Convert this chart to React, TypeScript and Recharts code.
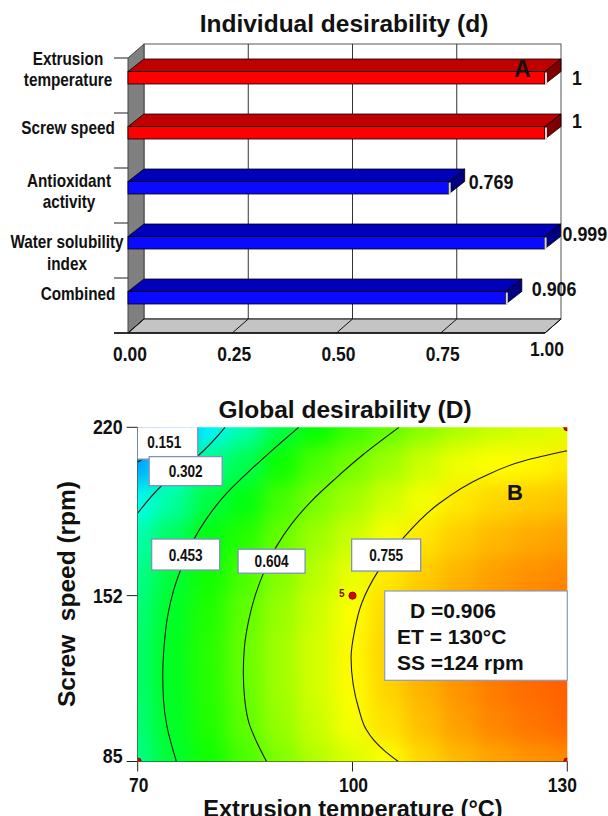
import React from 'react';
import { BarChart, Bar, XAxis, YAxis, ReferenceArea, ScatterChart, Scatter } from 'recharts';

// ---------------- Panel A data ----------------
const CATEGORIES = ['Extrusion temperature', 'Screw speed', 'Antioxidant activity', 'Water solubility index', 'Combined'];
const CATEGORY_LINES = [['Extrusion', 'temperature'], ['Screw speed'], ['Antioxidant', 'activity'], ['Water solubility', 'index'], ['Combined']];
const DESIRABILITY = [1, 1, 0.769, 0.999, 0.906];
const VALUE_LABELS = ['1', '1', '0.769', '0.999', '0.906'];
const BAR_KIND = ['factor', 'factor', 'response', 'response', 'response'];
const D_TICKS = [0, 0.25, 0.5, 0.75, 1];

// ---------------- Panel B data ----------------
const TEMPS = [70, 75, 80, 85, 90, 95, 100, 105, 110, 115, 120, 125, 130];
const SPEEDS = [220, 205, 190, 175, 160, 145, 130, 115, 100, 85];
const D_GRID = [
  [0.06, 0.11, 0.24, 0.33, 0.43, 0.50, 0.555, 0.595, 0.635, 0.67, 0.695, 0.71, 0.72],
  [0.16, 0.27, 0.37, 0.42, 0.51, 0.575, 0.615, 0.655, 0.70, 0.735, 0.75, 0.756, 0.77],
  [0.27, 0.345, 0.435, 0.485, 0.565, 0.62, 0.66, 0.705, 0.74, 0.772, 0.79, 0.80, 0.81],
  [0.33, 0.41, 0.485, 0.535, 0.60, 0.655, 0.70, 0.745, 0.775, 0.80, 0.82, 0.833, 0.843],
  [0.365, 0.445, 0.515, 0.572, 0.63, 0.683, 0.73, 0.772, 0.80, 0.825, 0.845, 0.858, 0.868],
  [0.385, 0.462, 0.53, 0.592, 0.649, 0.70, 0.747, 0.787, 0.817, 0.843, 0.862, 0.877, 0.887],
  [0.395, 0.471, 0.538, 0.602, 0.658, 0.709, 0.755, 0.794, 0.826, 0.852, 0.874, 0.89, 0.90],
  [0.395, 0.47, 0.537, 0.60, 0.657, 0.708, 0.753, 0.792, 0.826, 0.856, 0.879, 0.895, 0.906],
  [0.388, 0.463, 0.53, 0.592, 0.648, 0.698, 0.742, 0.78, 0.815, 0.845, 0.87, 0.885, 0.898],
  [0.372, 0.452, 0.515, 0.572, 0.625, 0.675, 0.715, 0.748, 0.79, 0.82, 0.84, 0.855, 0.865],
];
const TEMP_TICKS = [70, 100, 130];
const SPEED_TICKS = [85, 152, 220];

const CONTOUR_0151 = [{ T: 77.5, S: 220 }, { T: 74, S: 213 }, { T: 70, S: 206 }];
const CONTOUR_0302 = [{ T: 82.2, S: 220 }, { T: 78.5, S: 208.7 }, { T: 76, S: 203 }, { T: 73.4, S: 196.6 }, { T: 70, S: 185.3 }];
const CONTOUR_0453 = [
  { T: 92.5, S: 220 }, { T: 88.5, S: 210 }, { T: 85.1, S: 201 }, { T: 82, S: 192 }, { T: 79.6, S: 183 },
  { T: 77.7, S: 174 }, { T: 76.2, S: 164 }, { T: 75, S: 154 }, { T: 74.2, S: 144 }, { T: 73.7, S: 132 },
  { T: 73.5, S: 120 }, { T: 73.6, S: 110 }, { T: 74.1, S: 99 }, { T: 74.7, S: 92 }, { T: 75.4, S: 85 },
];
const CONTOUR_0604 = [
  { T: 106.5, S: 220 }, { T: 101.5, S: 209 }, { T: 97.5, S: 199 }, { T: 94.2, S: 190 }, { T: 91.5, S: 181 },
  { T: 89.4, S: 172 }, { T: 87.7, S: 162 }, { T: 86.4, S: 152 }, { T: 85.5, S: 142 }, { T: 84.9, S: 131 },
  { T: 84.75, S: 121 }, { T: 84.95, S: 110 }, { T: 85.6, S: 100 }, { T: 86.6, S: 93 }, { T: 88, S: 85 },
];
const CONTOUR_0755 = [
  { T: 130, S: 210.5 }, { T: 124, S: 206.5 }, { T: 117.8, S: 199.4 }, { T: 112, S: 189 }, { T: 107.1, S: 175.3 },
  { T: 103.6, S: 162 }, { T: 101.3, S: 149 }, { T: 100.3, S: 138 }, { T: 99.8, S: 127 }, { T: 100.1, S: 116 },
  { T: 100.9, S: 106 }, { T: 101.9, S: 98 }, { T: 103, S: 93.5 }, { T: 104.6, S: 89 }, { T: 106.4, S: 85 },
];
const CONTOURS = [CONTOUR_0151, CONTOUR_0302, CONTOUR_0453, CONTOUR_0604, CONTOUR_0755];
const CONTOUR_LABELS = [
  { T: 73.7, S: 214.0, text: '0.151' },
  { T: 76.7, S: 202.3, text: '0.302' },
  { T: 76.7, S: 168.6, text: '0.453' },
  { T: 88.7, S: 165.9, text: '0.604' },
  { T: 104.7, S: 168.4, text: '0.755' },
];
const DESIGN_POINTS = [
  { T: 70, S: 85, n: '' }, { T: 130, S: 85, n: '' }, { T: 130, S: 220, n: '' }, { T: 70, S: 220, n: '' }, { T: 100, S: 152, n: '5' },
];
const OPTIMUM_LINES = ['D =0.906', 'ET = 130°C', 'SS =124 rpm'];

// ---------------- styles ----------------
const ARIAL = "'Liberation Sans', Arial, sans-serif";
const SX = 0.85;
const DX = 16;
const DY = 12.5;
const WALL_DX = 16;
const WALL_DY = 14;
const CAT_LABEL_DY = [-27.5, -12.8, -15.5, -8.8, -12.2];
const CAT_LABEL_DX = [0, 0, 1, -1, 10];
const VALUE_LABEL_OFF = [[27, 0], [27, -12.5], [20, -6], [18, -9.5], [26, -9]];
const LABEL_BOX_SIZE = [[67, 34], [73, 29], [68, 31], [67, 24], [69, 32]];

const B_PLOT = { left: 137.7, top: 37.3, width: 429.6, height: 334.2 };
const CELL_W = B_PLOT.width / (TEMPS.length - 1);
const CELL_H = B_PLOT.height / (SPEEDS.length - 1);

function heatColor(v: number) {
  const c = Math.max(0, Math.min(1, v));
  let r = 0, g = 0, b = 0;
  if (c < 0.25) { g = (c / 0.25) * 255; b = 255; }
  else if (c < 0.5) { g = 255; b = (1 - (c - 0.25) / 0.25) * 255; }
  else if (c < 0.75) { r = ((c - 0.5) / 0.25) * 255; g = 255; }
  else { r = 255; g = (1 - (c - 0.75) / 0.25) * 255; }
  return `rgb(${Math.round(r)},${Math.round(g)},${Math.round(b)})`;
}

const barData = CATEGORIES.map((name, i) => ({ name, value: DESIRABILITY[i] }));
const HEAT = SPEEDS.flatMap((s, i) => TEMPS.map((t, j) => ({ T: t, S: s, D: D_GRID[i][j] })));

// narrow bold text (Arial-Narrow-like, by horizontal scaling)
const NText = ({ x, y, size, anchor = 'start', fill = '#111', children }: any) => (
  <text transform={`translate(${x},${y}) scale(${SX},1)`} textAnchor={anchor} fontFamily={ARIAL} fontWeight="bold" fontSize={size} fill={fill}>
    {children}
  </text>
);

// ---------------- Panel A shapes ----------------
const Walls = (p: any) => {
  const { x, y, width: w, height: h } = p;
  const gx = D_TICKS.slice(1, -1).map((v) => x + v * w);
  return (
    <g>
      <rect x={x + WALL_DX} y={y - WALL_DY} width={w} height={h} fill="#ffffff" stroke="#555" strokeWidth={1} />
      {gx.map((xx, i) => (
        <line key={i} x1={xx + WALL_DX} y1={y - WALL_DY} x2={xx + WALL_DX} y2={y + h - WALL_DY} stroke="#333" strokeWidth={1} />
      ))}
      <polygon points={`${x},${y} ${x + WALL_DX},${y - WALL_DY} ${x + WALL_DX},${y + h - WALL_DY} ${x},${y + h}`} fill="#808080" stroke="#444" strokeWidth={1} />
      <polygon points={`${x},${y + h} ${x + WALL_DX},${y + h - WALL_DY} ${x + w + WALL_DX},${y + h - WALL_DY} ${x + w},${y + h}`} fill="#c4c4c4" stroke="#111" strokeWidth={1} />
      {D_TICKS.map((v, i) => (
        <line key={'d' + i} x1={x + v * w} y1={y + h} x2={x + v * w + WALL_DX} y2={y + h - WALL_DY} stroke="#111" strokeWidth={1} />
      ))}
      {CATEGORIES.concat(['']).map((_, i) => (
        <line key={'t' + i} x1={x - 14} y1={y + (i * h) / CATEGORIES.length} x2={x} y2={y + (i * h) / CATEGORIES.length} stroke="#444" strokeWidth={1.2} />
      ))}
      <line x1={x - 14} y1={y + h} x2={x + w} y2={y + h} stroke="#111" strokeWidth={1.5} />
    </g>
  );
};

const Bar3D = (p: any) => {
  const { x, y, width, height, index } = p;
  const factor = BAR_KIND[index] === 'factor';
  const front = factor ? '#ff0000' : '#0a0aff';
  const top = factor ? '#c00000' : '#0000bb';
  const side = factor ? '#800000' : '#000080';
  const fy = y - 7.5;
  const x2 = x + width;
  const [ox, oy] = VALUE_LABEL_OFF[index];
  return (
    <g>
      <polygon points={`${x},${fy} ${x + DX},${fy - DY} ${x2 + DX},${fy - DY} ${x2},${fy}`} fill={top} stroke="#000" strokeWidth={0.8} />
      <rect x={x} y={fy} width={width} height={height} fill={front} stroke="#000" strokeWidth={0.8} />
      <polygon points={`${x2},${fy} ${x2 + DX},${fy - DY} ${x2 + DX},${fy - DY + height} ${x2},${fy + height}`} fill={side} stroke="#000" strokeWidth={0.8} />
      <line x1={x2 + 1} y1={fy + 1} x2={x2 + 1} y2={fy + height + 1} stroke="#d8d8d8" strokeWidth={2} />
      <NText x={x2 + ox} y={fy + height / 2 + oy + 7.5} size={21}>{VALUE_LABELS[index]}</NText>
    </g>
  );
};

const CatTick = (p: any) => {
  const i = CATEGORIES.indexOf(p.payload.value);
  const lines = CATEGORY_LINES[i] || [];
  const top = p.y + CAT_LABEL_DY[i];
  return (
    <g>
      {lines.map((ln, k) => (
        <NText key={k} x={68 + CAT_LABEL_DX[i]} y={top + k * 21.7 + 6.5} size={18} anchor="middle">{ln}</NText>
      ))}
    </g>
  );
};

const DTick = (p: any) => (
  <NText x={p.x + 2} y={p.y + (p.payload.value === 1 ? 23 : 28)} size={20.5} anchor="middle">
    {Number(p.payload.value).toFixed(2)}
  </NText>
);

// ---------------- Panel B shapes ----------------
const HeatCell = (p: any) => (
  <rect x={p.cx - CELL_W / 2 - 0.6} y={p.cy - CELL_H / 2 - 0.6} width={CELL_W + 1.2} height={CELL_H + 1.2} fill={heatColor(p.payload.D)} />
);
const NoShape = () => <g />;
const LabelBox = (p: any) => {
  const i = CONTOUR_LABELS.findIndex((c) => c.text === p.payload.text);
  const [w, h] = LABEL_BOX_SIZE[i];
  return (
    <g>
      <rect x={p.cx - w / 2} y={p.cy - h / 2} width={w} height={h} fill="#ffffff" stroke="#7d93bf" strokeWidth={1.3} />
      <NText x={p.cx} y={p.cy + 6} size={16} anchor="middle">{p.payload.text}</NText>
    </g>
  );
};
const DesignDot = (p: any) => (
  <g>
    <circle cx={p.cx} cy={p.cy} r={3.6} fill="#e00000" stroke="#700000" strokeWidth={0.8} />
    {p.payload.n ? (
      <text x={p.cx - 8} y={p.cy + 1} textAnchor="end" fontFamily={ARIAL} fontWeight="bold" fontSize={10} fill="#7a1010">{p.payload.n}</text>
    ) : null}
  </g>
);
const TempTick = (p: any) => (
  <NText x={p.x + (p.payload.value === 130 ? -5 : 1)} y={p.y + 18} size={20.5} anchor="middle">{p.payload.value}</NText>
);
const SpeedTick = (p: any) => (
  <NText x={p.x - 2} y={p.y + (p.payload.value === 85 ? 1 : 7)} size={21} anchor="end">{p.payload.value}</NText>
);

export default function App() {
  return (
    <div style={{ position: 'absolute', left: 0, top: 0, width: 608, height: 816, background: '#fff', overflow: 'hidden' }}>
      <style>{`.heat-layer { filter: url(#heatBlur); }`}</style>
      <svg width={0} height={0} style={{ position: 'absolute' }}>
        <defs>
          <filter id="heatBlur" filterUnits="userSpaceOnUse" x={B_PLOT.left} y={B_PLOT.top} width={B_PLOT.width} height={B_PLOT.height} colorInterpolationFilters="sRGB">
            <feGaussianBlur stdDeviation={10} />
            <feComponentTransfer>
              <feFuncA type="table" tableValues="1 1" />
            </feComponentTransfer>
          </filter>
        </defs>
      </svg>

      <div style={{ position: 'absolute', left: 0, top: 0 }}>
        <BarChart width={608} height={380} data={barData} layout="vertical" margin={{ top: 58, right: 63, bottom: 7, left: 0 }}>
          <XAxis type="number" domain={[0, 1]} ticks={D_TICKS} height={40} tickSize={0} tickMargin={0} tick={DTick} axisLine={false} tickLine={false} />
          <YAxis type="category" dataKey="name" width={128} tick={CatTick} axisLine={false} tickLine={false} tickSize={0} tickMargin={0} interval={0} />
          <ReferenceArea x1={0} x2={1} shape={Walls} fill="none" stroke="none" />
          <Bar dataKey="value" barSize={12.5} shape={Bar3D} isAnimationActive={false} />
        </BarChart>
      </div>

      <div style={{ position: 'absolute', left: 0, top: 390 }}>
        <ScatterChart width={608} height={426} margin={{ top: B_PLOT.top, right: 608 - B_PLOT.left - B_PLOT.width, bottom: 0, left: 0 }}>
          <XAxis type="number" dataKey="T" domain={[70, 130]} ticks={TEMP_TICKS} allowDataOverflow height={426 - B_PLOT.top - B_PLOT.height} tickSize={10} tick={TempTick} axisLine={{ stroke: '#222' }} tickLine={{ stroke: '#222' }} />
          <XAxis xAxisId="top" orientation="top" type="number" dataKey="T" domain={[70, 130]} height={0} tick={false} tickLine={false} axisLine={{ stroke: '#222' }} />
          <YAxis type="number" dataKey="S" domain={[85, 220]} ticks={SPEED_TICKS} allowDataOverflow width={B_PLOT.left} tickSize={11} tick={SpeedTick} axisLine={{ stroke: '#222' }} tickLine={{ stroke: '#222' }} />
          <YAxis yAxisId="right" orientation="right" type="number" dataKey="S" domain={[85, 220]} width={0} tick={false} tickLine={false} axisLine={{ stroke: '#222' }} />
          <Scatter data={HEAT} shape={HeatCell} className="heat-layer" isAnimationActive={false} />
          {CONTOURS.map((c, i) => (
            <Scatter key={i} data={c} shape={NoShape} line={{ stroke: '#1a1a1a', strokeWidth: 1.1 }} lineJointType="monotoneY" isAnimationActive={false} />
          ))}
          <Scatter data={DESIGN_POINTS} shape={DesignDot} isAnimationActive={false} />
          <Scatter data={CONTOUR_LABELS} shape={LabelBox} isAnimationActive={false} />
        </ScatterChart>
      </div>

      <svg width={608} height={816} style={{ position: 'absolute', left: 0, top: 0, pointerEvents: 'none' }}>
        <text x={344} y={32} textAnchor="middle" fontFamily={ARIAL} fontWeight="bold" fontSize={24.5} fill="#111">Individual desirability (d)</text>
        <text x={514} y={77} fontFamily={ARIAL} fontWeight="bold" fontSize={23} fill="#111">A</text>
        <text x={345} y={418} textAnchor="middle" fontFamily={ARIAL} fontWeight="bold" fontSize={24.5} fill="#111">Global desirability (D)</text>
        <text x={507} y={500} fontFamily={ARIAL} fontWeight="bold" fontSize={22} fill="#111">B</text>
        <rect x={384.7} y={591} width={182.6} height={89.3} fill="#ffffff" stroke="#8a9cc4" strokeWidth={1.2} />
        <text x={410} y={617.5} fontFamily={ARIAL} fontWeight="bold" fontSize={21} fill="#111">{OPTIMUM_LINES[0]}</text>
        <text x={397} y={643.5} fontFamily={ARIAL} fontWeight="bold" fontSize={21} fill="#111">{OPTIMUM_LINES[1]}</text>
        <text x={397} y={669.5} fontFamily={ARIAL} fontWeight="bold" fontSize={21} fill="#111">{OPTIMUM_LINES[2]}</text>
        <text x={353} y={817} textAnchor="middle" fontFamily={ARIAL} fontWeight="bold" fontSize={23.5} fill="#111">Extrusion temperature (°C)</text>
        <text transform="translate(74.5,594) rotate(-90)" textAnchor="middle" fontFamily={ARIAL} fontWeight="bold" fontSize={24.5} fill="#111" style={{ whiteSpace: 'pre' }}>{'Screw  speed (rpm)'}</text>
      </svg>
    </div>
  );
}
